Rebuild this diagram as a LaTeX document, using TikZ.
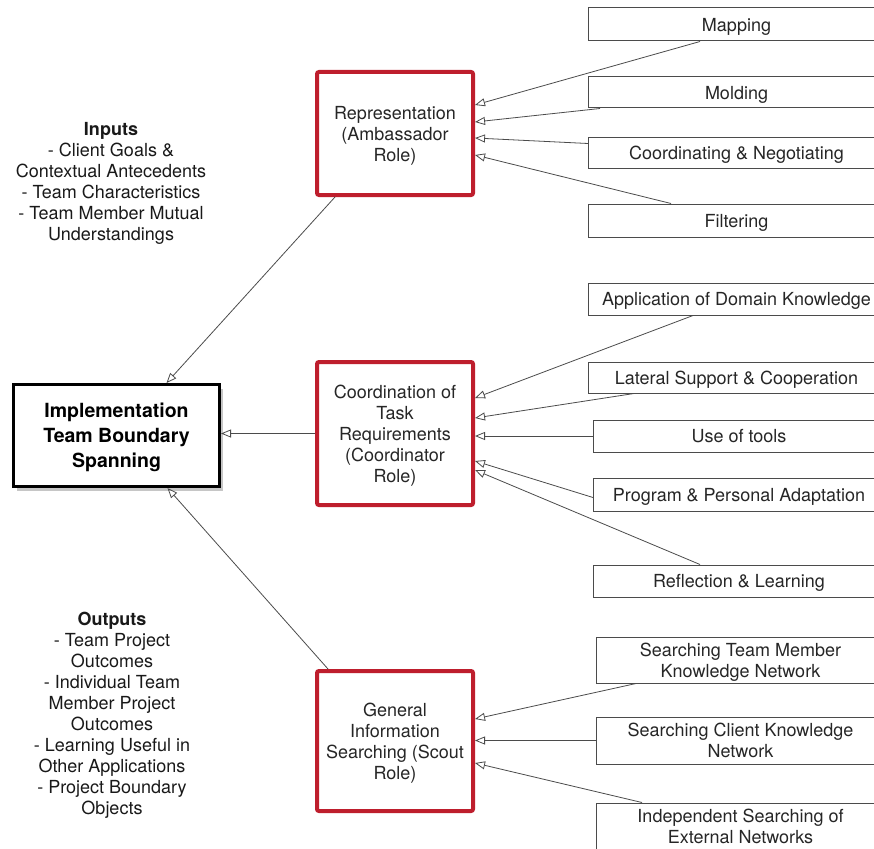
\documentclass[tikz,border=0pt]{standalone}
\usepackage{fontspec}
\setmainfont{TeX Gyre Heros}
\usepackage{xcolor}
\usetikzlibrary{arrows.meta, positioning, shadows}
\definecolor{rolered}{RGB}{190,30,45}
\definecolor{edgegray}{RGB}{75,75,75}

\begin{document}
\begin{tikzpicture}[
        x=1pt, y=-1pt,
        font=\fontsize{18}{21}\selectfont,
        every node/.append style={text depth=0pt},
        hub/.style={
            rectangle,
            draw=black,
            line width=3pt,
            fill=white,
            minimum width=206pt,
            minimum height=102pt,
            align=center,
            font=\fontsize{19.5}{25}\selectfont\bfseries,
            drop shadow={shadow xshift=3pt, shadow yshift=-4pt, opacity=0.45}
        },
        role/.style={
            rectangle,
            draw=rolered,
            line width=4pt,
            rounded corners=2pt,
            fill=white,
            minimum width=156pt,
            align=center,
            text=black!85
        },
        task/.style={
            rectangle,
            draw=edgegray,
            line width=1pt,
            anchor=west,
            minimum width=#1,
            align=center,
            inner sep=0pt,
            text=black!85
        },
        note/.style={
            align=center,
            text=black!90
        },
        line/.style={
            draw=edgegray,
            line width=0.8pt,
            -{Triangle[open, length=10pt, width=8pt]}
        }
    ]
    \useasboundingbox (0,0) rectangle (874,848);
    \clip (0,0) rectangle (874,848);

    % Centre and roles
    \node[hub] (spanning) at (116.5,435.5) {Implementation\\Team Boundary\\Spanning};
    \node[role, minimum height=123pt] (ambassador) at (395,133.5) {Representation\\(Ambassador\\Role)};
    \node[role, minimum height=143pt] (coordinator) at (395,433.5) {Coordination of\\Task\\Requirements\\(Coordinator\\Role)};
    \node[role, minimum height=140pt] (scout) at (395,741) {General\\Information\\Searching (Scout\\Role)};

    % Inputs and outputs
    \node[note] (inputs) at (111,181.5) {\textbf{Inputs}\\- Client Goals \&\\Contextual Antecedents\\- Team Characteristics\\- Team Member Mutual\\Understandings};
    \node[note] (outputs) at (112,713.5) {\textbf{Outputs}\\- Team Project\\Outcomes\\- Individual Team\\Member Project\\Outcomes\\- Learning Useful in\\Other Applications\\- Project Boundary\\Objects};

    % Ambassador tasks
    \node[task=296pt, minimum height=33pt] (mapping) at (588,24.5) {Mapping};
    \node[task=296pt, minimum height=31pt] (molding) at (588,92.5) {Molding};
    \node[task=296pt, minimum height=31pt] (negotiating) at (588,152.5) {Coordinating \& Negotiating};
    \node[task=296pt, minimum height=33pt] (filtering) at (588,220.5) {Filtering};

    % Coordinator tasks
    \node[task=296pt, minimum height=32pt] (domain) at (588,299) {Application of Domain Knowledge};
    \node[task=296pt, minimum height=31pt] (lateral) at (588,377.5) {Lateral Support \& Cooperation};
    \node[task=291pt, minimum height=32pt] (tools) at (593,436) {Use of tools};
    \node[task=291pt, minimum height=33pt] (adaptation) at (593,494.5) {Program \& Personal Adaptation};
    \node[task=291pt, minimum height=32pt] (reflection) at (593,581) {Reflection \& Learning};

    % Scout tasks
    \node[task=288pt, minimum height=46pt] (teamnet) at (596,660) {Searching Team Member\\Knowledge Network};
    \node[task=288pt, minimum height=47pt] (clientnet) at (596,740.5) {Searching Client Knowledge\\Network};
    \node[task=288pt, minimum height=47pt] (extnet) at (596,826.5) {Independent Searching of\\External Networks};

    % Arrows into the roles
    \path[line] ([xshift=112pt]mapping.south west) -- ([yshift=28.5pt]ambassador.east);
    \path[line] ([xshift=12pt]molding.south west) -- ([yshift=11.5pt]ambassador.east);
    \path[line] ([yshift=9pt]negotiating.west) -- ([yshift=-4.5pt]ambassador.east);
    \path[line] ([xshift=83pt]filtering.north west) -- ([yshift=-21.5pt]ambassador.east);

    \path[line] ([xshift=105pt]domain.south west) -- ([yshift=35.5pt]coordinator.east);
    \path[line] ([xshift=46pt]lateral.south west) -- ([yshift=15.5pt]coordinator.east);
    \path[line] (tools.west) -- (tools.west -| coordinator.east);
    \path[line] ([yshift=-3pt]adaptation.west) -- ([yshift=-27.5pt]coordinator.east);
    \path[line] ([xshift=107pt]reflection.north west) -- ([yshift=-36.5pt]coordinator.east);

    \path[line] ([xshift=40pt]teamnet.south west) -- ([yshift=22pt]scout.east);
    \path[line] (clientnet.west) -- (clientnet.west -| scout.east);
    \path[line] ([xshift=46pt]extnet.north west) -- ([yshift=-22pt]scout.east);

    % Arrows into the centre
    \path[line] ([xshift=20pt]ambassador.south west) -- ([xshift=50pt]spanning.north);
    \path[line] (coordinator.west) -- (coordinator.west -| spanning.east);
    \path[line] ([xshift=13pt]scout.north west) -- ([xshift=51pt]spanning.south);
\end{tikzpicture}
\end{document}
